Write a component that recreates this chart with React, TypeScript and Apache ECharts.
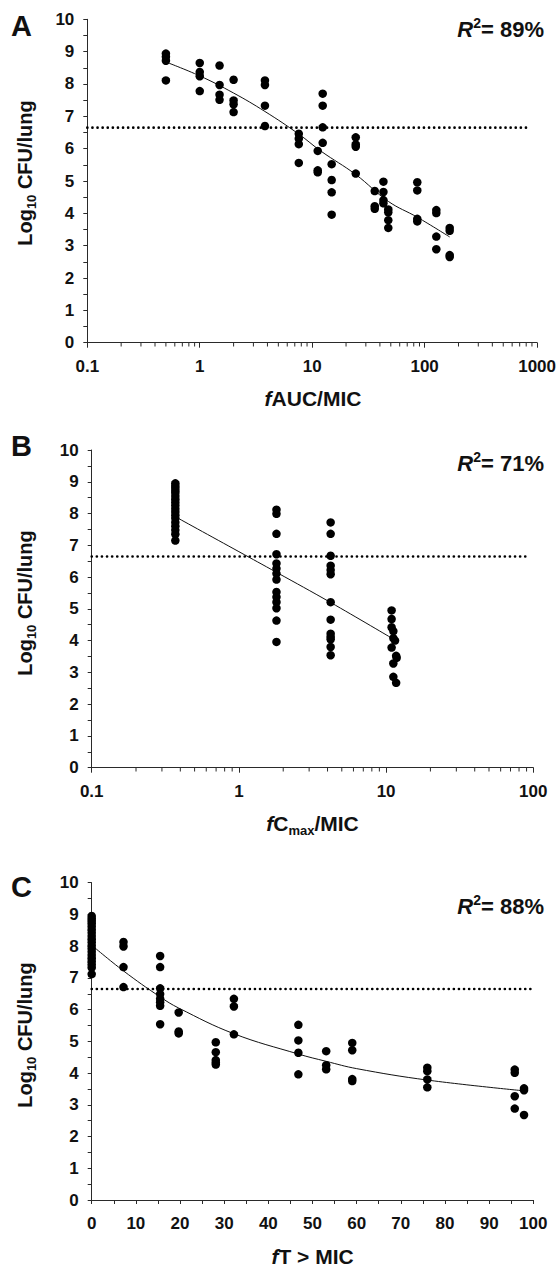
import { useEffect, useRef } from "react";
import * as echarts from "echarts";

// ---------- data ----------
const aucPoints: [number, number][] = [
  [0.5, 8.94], [0.5, 8.84], [0.5, 8.72], [0.5, 8.11],
  [1, 8.65], [1, 8.37], [1, 8.24], [1, 7.78],
  [1.5, 8.57], [1.5, 7.97], [1.5, 7.67], [1.5, 7.51],
  [2, 8.13], [2, 7.49], [2, 7.37], [2, 7.13],
  [3.8, 8.11], [3.8, 7.97], [3.8, 7.33], [3.8, 6.7],
  [7.6, 6.46], [7.6, 6.31], [7.6, 6.14], [7.6, 5.56],
  [11.2, 5.93], [11.2, 5.33], [11.2, 5.27],
  [12.4, 7.7], [12.4, 7.33], [12.4, 6.66], [12.4, 6.18],
  [14.9, 5.52], [14.9, 5.03], [14.9, 4.65], [14.9, 3.96],
  [24.4, 6.35], [24.4, 6.13], [24.4, 6.06], [24.4, 5.23],
  [36, 4.69], [36, 4.22], [36, 4.14],
  [43, 4.98], [43, 4.66], [43, 4.41], [43, 4.31],
  [47.5, 4.12], [47.5, 4.03], [47.5, 3.79], [47.5, 3.55],
  [86, 4.96], [86, 4.71], [86, 3.83], [86, 3.75],
  [127, 4.1], [127, 4.01], [127, 3.28], [127, 2.89],
  [167, 3.55], [167, 3.46], [167, 2.71], [167, 2.65],
];
const aucFit: [number, number][] = [
  [0.5, 8.68], [1, 8.25], [2, 7.72], [3.8, 7.15], [7.6, 6.45],
  [12, 5.92], [24.4, 5.2], [47.5, 4.37], [86, 3.88], [167, 3.27],
];

const cmaxPoints: [number, number][] = [
  [0.37, 8.95], [0.37, 8.87], [0.37, 8.8], [0.37, 8.72], [0.37, 8.65], [0.37, 8.55],
  [0.37, 8.45], [0.37, 8.35], [0.37, 8.25], [0.37, 8.15], [0.37, 8.05], [0.37, 7.95],
  [0.37, 7.85], [0.37, 7.72], [0.37, 7.6], [0.37, 7.48], [0.37, 7.35], [0.37, 7.15],
  [1.8, 8.12], [1.8, 7.99], [1.8, 7.36], [1.8, 6.72], [1.8, 6.43], [1.8, 6.27],
  [1.8, 6.11], [1.8, 5.92], [1.8, 5.53], [1.8, 5.37], [1.8, 5.21], [1.8, 5.02],
  [1.8, 4.63], [1.8, 3.96],
  [4.2, 7.72], [4.2, 7.36], [4.2, 6.67], [4.2, 6.36], [4.2, 6.22], [4.2, 6.09],
  [4.2, 5.21], [4.2, 4.66], [4.2, 4.22], [4.2, 4.12], [4.2, 4.04], [4.2, 3.8], [4.2, 3.54],
  [10.9, 4.95], [10.9, 4.68], [10.9, 4.42], [11.2, 4.3], [11.2, 4.08], [11.5, 4.0],
  [10.9, 3.78], [11.7, 3.52], [11.8, 3.46], [11.2, 3.28], [11.2, 2.86], [11.7, 2.67],
];
const cmaxFit: [number, number][] = [
  [0.37, 7.9], [1, 6.8], [1.8, 6.15], [4.2, 5.2], [11, 4.07],
];

const timePoints: [number, number][] = [
  [0, 8.95], [0, 8.87], [0, 8.8], [0, 8.72], [0, 8.62], [0, 8.52], [0, 8.42],
  [0, 8.32], [0, 8.22], [0, 8.12], [0, 8.02], [0, 7.92], [0, 7.82], [0, 7.72],
  [0, 7.62], [0, 7.52], [0, 7.42], [0, 7.32], [0, 7.12],
  [7.2, 8.13], [7.2, 7.99], [7.2, 7.34], [7.2, 6.71],
  [15.5, 7.69], [15.5, 7.34], [15.5, 6.67], [15.5, 6.49], [15.5, 6.34], [15.5, 6.23],
  [15.5, 6.12], [15.5, 5.54],
  [19.7, 5.91], [19.7, 5.31], [19.7, 5.25],
  [28.1, 4.97], [28.1, 4.66], [28.1, 4.41], [28.1, 4.33], [28.1, 4.27],
  [32.2, 6.34], [32.2, 6.1], [32.2, 5.22],
  [46.8, 5.52], [46.8, 5.03], [46.8, 4.64], [46.8, 3.96],
  [53.1, 4.69], [53.1, 4.25], [53.1, 4.12],
  [59, 4.95], [59, 4.72], [59, 3.81], [59, 3.75],
  [76, 4.17], [76, 4.06], [76, 3.8], [76, 3.55],
  [95.8, 4.11], [95.8, 4.01], [95.8, 3.27], [95.8, 2.88],
  [97.9, 3.52], [97.9, 3.46], [97.9, 2.68],
];
const timeFit: [number, number][] = [
  [0, 8.03], [7.2, 7.22], [15.5, 6.4], [19.7, 6.05], [32.2, 5.24],
  [46.8, 4.6], [53.1, 4.37], [60, 4.14], [76, 3.78], [97.9, 3.44],
];

const stasisLevel = 6.65;
const dottedExtents: [number, number][] = [[0.1, 800], [0.1, 95], [0, 100]];
const r2Values = ["89%", "71%", "88%"];
const panelLetters = ["A", "B", "C"];
const logMinorMultipliers = [2, 3, 4, 5, 6, 7, 8, 9];
const decadesA = [0.1, 1, 10, 100];
const decadesB = [0.1, 1, 10];

// ---------- layout ----------
const W = 559;
const H = 1267;
const FONT = "'Liberation Sans', Arial, Helvetica, sans-serif";
const AXIS_COLOR = "#2a2a2a";
const grids = [
  { left: 87.3, top: 19.3, width: 451.4, height: 323.4 },
  { left: 91.7, top: 450, width: 441.6, height: 317.7 },
  { left: 91.7, top: 882.7, width: 441.6, height: 317.3 },
];

const labelStyle = {
  fontSize: 17,
  fontWeight: "bold" as const,
  color: "#111",
  fontFamily: FONT,
};

function yAxis(gi: number) {
  return {
    type: "value",
    gridIndex: gi,
    min: 0,
    max: 10,
    interval: 1,
    axisLine: { show: true, lineStyle: { color: AXIS_COLOR, width: 1 } },
    axisTick: { show: true, length: 4, lineStyle: { color: AXIS_COLOR } },
    minorTick: { show: true, splitNumber: 2, length: 4, lineStyle: { color: AXIS_COLOR } },
    splitLine: { show: false },
    minorSplitLine: { show: false },
    axisLabel: { ...labelStyle, margin: 13 },
  };
}

function logXAxis(gi: number, max: number) {
  return {
    type: "log",
    logBase: 10,
    gridIndex: gi,
    min: 0.1,
    max,
    axisLine: { show: true, lineStyle: { color: AXIS_COLOR, width: 1 } },
    axisTick: { show: true, length: 5, lineStyle: { color: AXIS_COLOR } },
    splitLine: { show: false },
    axisLabel: {
      ...labelStyle,
      margin: 15,
      formatter: (v: number) => String(Number(Number(v).toPrecision(2))),
    },
  };
}

function minorTickSeries(gi: number, decades: number[]) {
  const data = decades.flatMap((d) => logMinorMultipliers.map((m) => [d * m, 0]));
  return {
    type: "scatter",
    xAxisIndex: gi,
    yAxisIndex: gi,
    data,
    symbol: "rect",
    symbolSize: [1, 3.5],
    symbolOffset: [0, 2],
    itemStyle: { color: AXIS_COLOR, opacity: 1 },
    clip: false,
    silent: true,
    z: 1,
  };
}

function panelSeries(gi: number, pts: [number, number][], fit: [number, number][]) {
  const [x0, x1] = dottedExtents[gi];
  return [
    {
      type: "line",
      xAxisIndex: gi,
      yAxisIndex: gi,
      data: [[x0, stasisLevel], [x1, stasisLevel]],
      showSymbol: false,
      symbol: "none",
      lineStyle: { color: "#000", width: 2.6, type: [0.1, 5], cap: "round" },
      silent: true,
      z: 2,
    },
    {
      type: "line",
      xAxisIndex: gi,
      yAxisIndex: gi,
      data: fit,
      smooth: 0.4,
      showSymbol: false,
      symbol: "none",
      lineStyle: { color: "#111", width: 1 },
      silent: true,
      z: 3,
    },
    {
      type: "scatter",
      xAxisIndex: gi,
      yAxisIndex: gi,
      data: pts,
      symbol: "circle",
      symbolSize: 8.5,
      itemStyle: { color: "#000", opacity: 1 },
      silent: true,
      clip: false,
      z: 4,
    },
  ];
}

function txt(x: number, y: number, text: string, opts: any) {
  return {
    type: "text",
    x,
    y,
    silent: true,
    rotation: opts.rotation || 0,
    style: {
      text,
      fill: "#111",
      fontSize: opts.fontSize,
      fontWeight: "bold",
      fontFamily: FONT,
      textAlign: opts.align || "center",
      align: opts.align || "center",
      textVerticalAlign: "middle",
      verticalAlign: "middle",
      rich: opts.rich,
    },
  };
}

const nameRich = {
  n: { fontSize: 21, fontWeight: "bold", fontFamily: FONT, color: "#111", lineHeight: 26 },
  i: { fontSize: 21, fontWeight: "bold", fontStyle: "italic", fontFamily: FONT, color: "#111", lineHeight: 26 },
  sub: { fontSize: 13, fontWeight: "bold", fontFamily: FONT, color: "#111", lineHeight: 2, verticalAlign: "bottom" },
};
const yNameRich = {
  n: { fontSize: 20, fontWeight: "bold", fontFamily: FONT, color: "#111", lineHeight: 26 },
  sub: { fontSize: 13, fontWeight: "bold", fontFamily: FONT, color: "#111", lineHeight: 6, verticalAlign: "bottom" },
};
const r2Rich = {
  i: { fontSize: 22, fontWeight: "bold", fontStyle: "italic", fontFamily: FONT, color: "#111", lineHeight: 26 },
  sup: { fontSize: 14, fontWeight: "bold", fontFamily: FONT, color: "#111", lineHeight: 12, verticalAlign: "top" },
  n: { fontSize: 22, fontWeight: "bold", fontFamily: FONT, color: "#111", lineHeight: 26 },
};

const xNames = [
  "{i|f}{n|AUC/MIC}",
  "{i|f}{n|C}{sub|max}{n|/MIC}",
  "{i|f}{n|T > MIC}",
];
const letterY = [26, 446, 887];
const r2Y = [29, 463, 906];
const yNameY = [173, 603, 1035];

export default function App() {
  const ref = useRef<HTMLDivElement>(null);
  useEffect(() => {
    if (!ref.current) return;
    const chart = echarts.init(ref.current, undefined, { renderer: "svg", width: W, height: H });

    const graphics: any[] = [];
    grids.forEach((g, gi) => {
      graphics.push(
        txt(11, letterY[gi], panelLetters[gi], { align: "left", fontSize: 29 })
      );
      graphics.push(
        txt(544, r2Y[gi], `{i|R}{sup|2}{n|= ${r2Values[gi]}}`, {
          align: "right",
          fontSize: 22,
          rich: r2Rich,
        })
      );
      graphics.push(
        txt(25, yNameY[gi], "{n|Log}{sub|10}{n| CFU/lung}", {
          align: "center",
          rotation: Math.PI / 2,
          fontSize: 20,
          rich: yNameRich,
        })
      );
      graphics.push(
        txt(g.left + g.width / 2, g.top + g.height + 56, xNames[gi], {
          align: "center",
          fontSize: 21,
          rich: nameRich,
        })
      );
    });

    const timeAxis = {
      type: "value",
      gridIndex: 2,
      min: 0,
      max: 100,
      interval: 10,
      axisLine: { show: true, lineStyle: { color: AXIS_COLOR, width: 1 } },
      axisTick: { show: true, length: 4, lineStyle: { color: AXIS_COLOR } },
      minorTick: { show: true, splitNumber: 2, length: 4, lineStyle: { color: AXIS_COLOR } },
      splitLine: { show: false },
      minorSplitLine: { show: false },
      axisLabel: { ...labelStyle, margin: 15 },
    };

    chart.setOption({
      animation: false,
      backgroundColor: "#fff",
      textStyle: { fontFamily: FONT },
      grid: grids.map((g) => ({ ...g, containLabel: false })),
      xAxis: [logXAxis(0, 1000), logXAxis(1, 100), timeAxis],
      yAxis: [yAxis(0), yAxis(1), yAxis(2)],
      series: [
        minorTickSeries(0, decadesA),
        minorTickSeries(1, decadesB),
        ...panelSeries(0, aucPoints, aucFit),
        ...panelSeries(1, cmaxPoints, cmaxFit),
        ...panelSeries(2, timePoints, timeFit),
      ],
      graphic: graphics,
    });
    return () => chart.dispose();
  }, []);
  return (
    <div
      ref={ref}
      style={{ position: "absolute", left: 0, top: 0, width: W, height: H, background: "#fff" }}
    />
  );
}
